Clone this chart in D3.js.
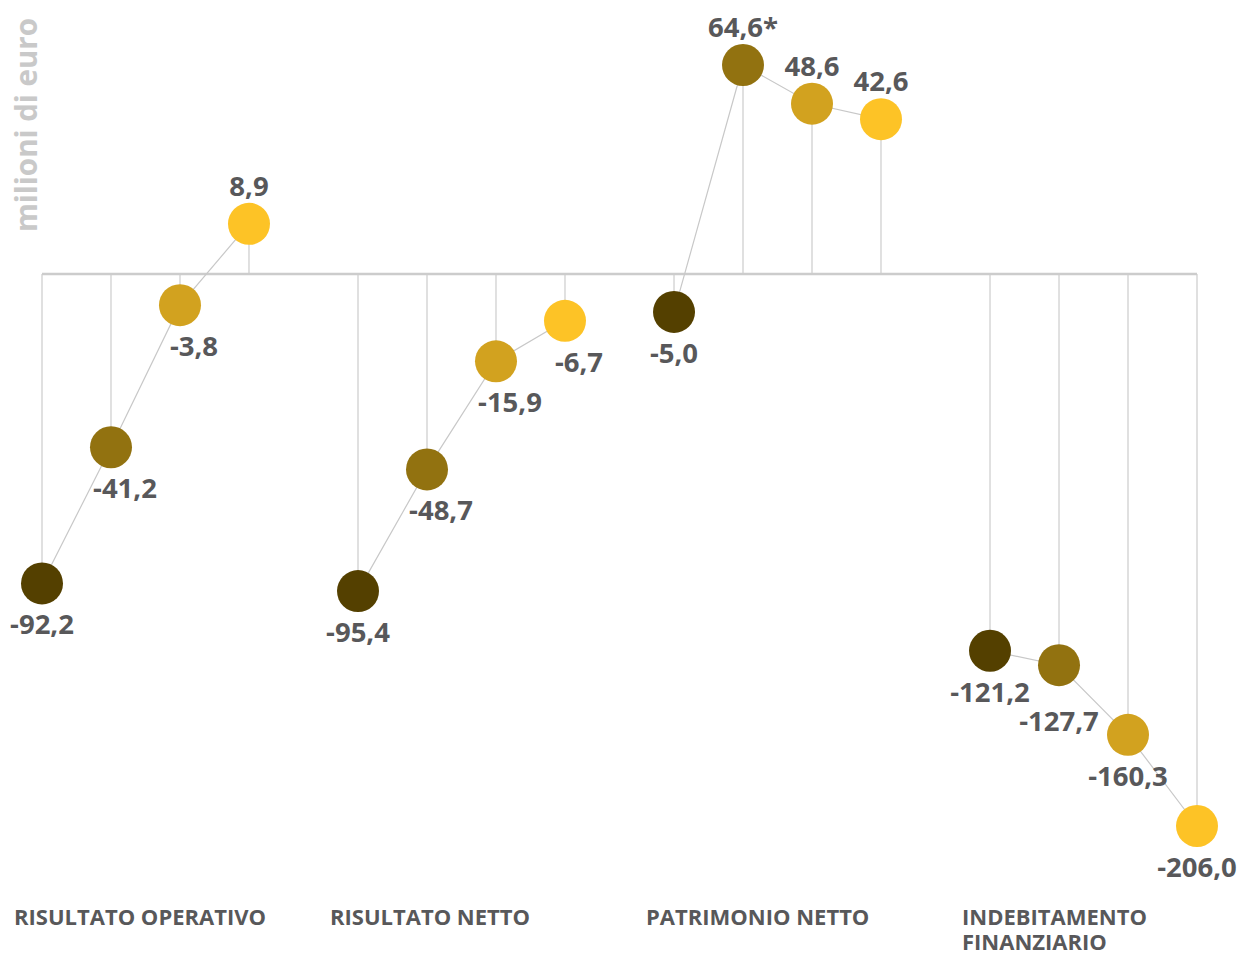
<!DOCTYPE html>
<html>
<head>
<meta charset="utf-8">
<script src="https://cdn.jsdelivr.net/npm/d3@7"></script>
<style>
  body { margin: 0; background: #fff; }
  svg text { font-family: "Open Sans", sans-serif; }
</style>
</head>
<body>
<div id="chart"></div>
<script>
// categories (two-line names split by "|")
var categories = ["RISULTATO OPERATIVO", "RISULTATO NETTO", "PATRIMONIO NETTO", "INDEBITAMENTO|FINANZIARIO"];

// four yearly values per category, oldest first
var risultatoOperativo = [-92.2, -41.2, -3.8, 8.9],
    risultatoNetto = [-95.4, -48.7, -15.9, -6.7],
    patrimonioNetto = [-5.0, 64.6, 48.6, 42.6],
    indebitamento = [-121.2, -127.7, -160.3, -206.0];

var seriesValues = [risultatoOperativo, risultatoNetto, patrimonioNetto, indebitamento];
var footnotes = [["", "", "", ""], ["", "", "", ""], ["", "*", "", ""], ["", "", "", ""]];

var colors = ["#544000", "#927210", "#d2a21f", "#fdc326"];

var width = 1245, height = 955;

var svg = d3.select("#chart").append("svg")
    .attr("width", width)
    .attr("height", height);

// the original is not drawn to a linear scale; a power scale fits it best
var y = d3.scalePow()
    .exponent(0.72)
    .domain([-206, 0, 64.6])
    .range([826, 274, 65]);

var x0 = d3.scaleBand()
    .domain(categories)
    .range([42, 1197])
    .paddingInner(0.345)
    .paddingOuter(0);

var x1 = d3.scalePoint()
    .domain([0, 1, 2, 3])
    .range([0, x0.bandwidth()]);

var fmt = function(v) { return d3.format(".1f")(v).replace(".", ",").replace("−", "-"); };

var points = [];
categories.forEach(function(c, gi) {
    seriesValues[gi].forEach(function(v, i) {
        var prev = i > 0 ? seriesValues[gi][i - 1] : null;
        points.push({
            cat: c, i: i, value: v, note: footnotes[gi][i],
            x: x0(c) + x1(i), y: y(v),
            // nudge label right when the connecting line comes up from below-left
            shift: (v < 0 && prev !== null && prev < v) ? 14 : 0
        });
    });
});

// y title
svg.append("text")
    .attr("transform", "translate(37,18) rotate(-90)")
    .attr("text-anchor", "end")
    .attr("font-size", 29.5)
    .attr("font-weight", 700)
    .attr("fill", "#c9c9c9")
    .text("milioni di euro");

// stems
svg.append("g").selectAll("line")
    .data(points)
    .enter().append("line")
    .attr("x1", function(d) { return d.x; })
    .attr("x2", function(d) { return d.x; })
    .attr("y1", y(0))
    .attr("y2", function(d) { return d.y; })
    .attr("stroke", "#cccccc")
    .attr("stroke-width", 1.2);

// zero line
svg.append("line")
    .attr("x1", x0.range()[0])
    .attr("x2", x0.range()[1])
    .attr("y1", y(0))
    .attr("y2", y(0))
    .attr("stroke", "#cccccc")
    .attr("stroke-width", 2.5);

// connecting lines within each category
var line = d3.line()
    .x(function(d) { return d.x; })
    .y(function(d) { return d.y; });

svg.append("g").selectAll("path")
    .data(categories.map(function(c) { return points.filter(function(p) { return p.cat === c; }); }))
    .enter().append("path")
    .attr("d", line)
    .attr("fill", "none")
    .attr("stroke", "#c8c8c8")
    .attr("stroke-width", 1.2);

// dots
svg.append("g").selectAll("circle")
    .data(points)
    .enter().append("circle")
    .attr("cx", function(d) { return d.x; })
    .attr("cy", function(d) { return d.y; })
    .attr("r", 21)
    .attr("fill", function(d) { return colors[d.i]; });

// value labels
var labels = svg.append("g").selectAll("text")
    .data(points)
    .enter().append("text")
    .attr("x", function(d) { return d.x + d.shift; })
    .attr("y", function(d) { return d.value < 0 ? d.y + 51 : d.y - 28; })
    .attr("text-anchor", "middle")
    .attr("font-size", 27.5)
    .attr("font-weight", 700)
    .attr("fill", "#58585a")
    .text(function(d) { return fmt(d.value) + d.note; });

// push a label down if it runs into the previous one of the same group
var prevBox = null, prevCat = null;
labels.each(function(d) {
    var b = this.getBBox();
    if (prevBox && prevCat === d.cat && d.value < 0 &&
        b.x < prevBox.x + prevBox.width && b.x + b.width > prevBox.x &&
        b.y < prevBox.y + prevBox.height - 8) {
        var dy = prevBox.y + prevBox.height - 8 - b.y;
        d3.select(this).attr("y", +d3.select(this).attr("y") + dy);
        b = this.getBBox();
    }
    prevBox = b;
    prevCat = d.cat;
});

// category labels, one text per line
var catLines = [];
categories.forEach(function(c) {
    c.split("|").forEach(function(t, i) { catLines.push({ cat: c, text: t, line: i }); });
});

svg.append("g").selectAll("text")
    .data(catLines)
    .enter().append("text")
    .attr("x", function(d) { return x0(d.cat) - 28; })
    .attr("y", function(d) { return 925 + d.line * 25; })
    .attr("font-size", 22)
    .attr("font-weight", 700)
    .attr("fill", "#58585a")
    .text(function(d) { return d.text; });
</script>
</body>
</html>
